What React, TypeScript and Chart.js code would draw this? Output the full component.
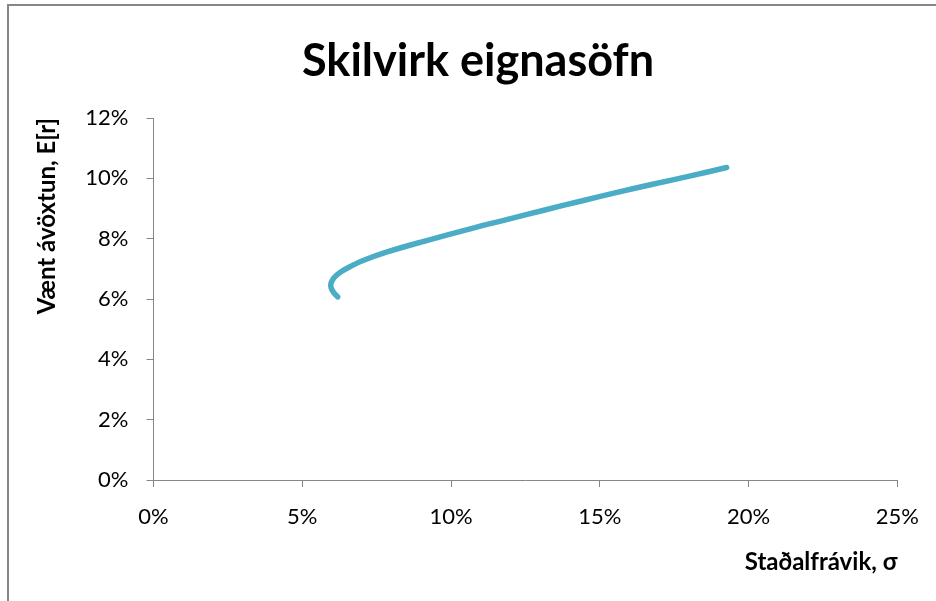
import React, { useEffect, useRef } from "react";
import { Chart, registerables } from "chart.js";

Chart.register(...registerables);

// Efficient frontier: standard deviation (%) against expected return (%)
const sigma = [6.19, 6.05, 5.97, 5.96, 6.02, 6.14, 6.33, 6.6, 7.0, 7.85, 9.15, 10.58, 11.9, 13.15, 14.38, 15.65, 16.85, 18.05, 19.26];
const expectedReturn = [6.07, 6.22, 6.37, 6.5, 6.64, 6.78, 6.92, 7.07, 7.26, 7.56, 7.93, 8.31, 8.64, 8.95, 9.25, 9.55, 9.82, 10.08, 10.36];

const xTicks = [0, 5, 10, 15, 20, 25];
const yTicks = [0, 2, 4, 6, 8, 10, 12];

const chartTitle = "Skilvirk eignasöfn";
const xTitle = "Staðalfrávik, σ";
const yTitle = "Vænt ávöxtun, E[r]";

const FONT = "Lato, 'Open Sans', sans-serif";
const AXIS_GREY = "#868686";

const framePlugin = {
  id: "frame",
  afterLayout(chart: any) {
    // centre the heading over the framed area rather than the plot
    const tb = chart.titleBlock;
    if (tb) {
      tb.left += 58;
    }
  },
  beforeDraw(chart: any) {
    const { ctx } = chart;
    ctx.save();
    ctx.fillStyle = "#ffffff";
    ctx.fillRect(0, 0, chart.width, chart.height);
    ctx.strokeStyle = "#878787";
    ctx.lineWidth = 2;
    ctx.strokeRect(8, 5, chart.width + 20, chart.height + 20);
    ctx.restore();
  },
};

export default function App() {
  const canvasRef = useRef<HTMLCanvasElement | null>(null);

  useEffect(() => {
    document.body.style.margin = "0";
    const canvas = canvasRef.current;
    if (!canvas) return;
    const points = sigma.map((s, i) => ({ x: s, y: expectedReturn[i] }));
    const chart = new Chart(canvas, {
      type: "scatter",
      data: {
        datasets: [
          {
            data: points,
            showLine: true,
            borderColor: "#4BACC6",
            backgroundColor: "#4BACC6",
            borderWidth: 5.5,
            borderCapStyle: "round",
            borderJoinStyle: "round",
            pointRadius: 0,
            pointHoverRadius: 0,
            tension: 0.4,
          },
        ],
      },
      options: {
        animation: false,
        responsive: false,
        devicePixelRatio: 1,
        layout: { padding: { left: 0, right: 38, top: 0, bottom: 0 } },
        plugins: {
          legend: { display: false },
          tooltip: { enabled: false },
          title: {
            display: true,
            text: chartTitle,
            color: "#000000",
            font: { family: FONT, size: 45, weight: "bold" },
            padding: { top: 34, bottom: 30 },
          },
        },
        scales: {
          x: {
            type: "linear",
            min: 0,
            max: 25,
            afterBuildTicks(scale: any) {
              scale.ticks = xTicks.map((v) => ({ value: v }));
            },
            afterFit(scale: any) {
              scale.height = 121;
            },
            grid: {
              display: true,
              drawOnChartArea: false,
              drawTicks: true,
              tickLength: 7,
              color: AXIS_GREY,
              tickColor: AXIS_GREY,
            },
            border: { display: true, color: AXIS_GREY, width: 1 },
            ticks: {
              color: "#000000",
              font: { family: FONT, size: 22 },
              padding: 17,
              callback: (v: any) => v + "%",
            },
            title: {
              display: true,
              text: xTitle,
              align: "end",
              color: "#000000",
              font: { family: FONT, size: 24, weight: "bold" },
              padding: { top: 0, bottom: 24 },
            },
          },
          y: {
            type: "linear",
            min: 0,
            max: 12,
            afterBuildTicks(scale: any) {
              scale.ticks = yTicks.map((v) => ({ value: v }));
            },
            afterFit(scale: any) {
              scale.width = 153.5;
            },
            grid: {
              display: true,
              drawOnChartArea: false,
              drawTicks: true,
              tickLength: 7,
              color: AXIS_GREY,
              tickColor: AXIS_GREY,
            },
            border: { display: true, color: AXIS_GREY, width: 1 },
            ticks: {
              color: "#000000",
              font: { family: FONT, size: 22 },
              padding: 18,
              callback: (v: any) => v + "%",
            },
            title: {
              display: true,
              text: yTitle,
              align: "end",
              color: "#000000",
              font: { family: FONT, size: 24, weight: "bold" },
              padding: { top: 33, bottom: 0 },
            },
          },
        },
      },
      plugins: [framePlugin],
    });
    return () => chart.destroy();
  }, []);

  return (
    <div style={{ width: 936, height: 601, position: "relative" }}>
      <canvas ref={canvasRef} width={936} height={601} style={{ display: "block" }} />
    </div>
  );
}
